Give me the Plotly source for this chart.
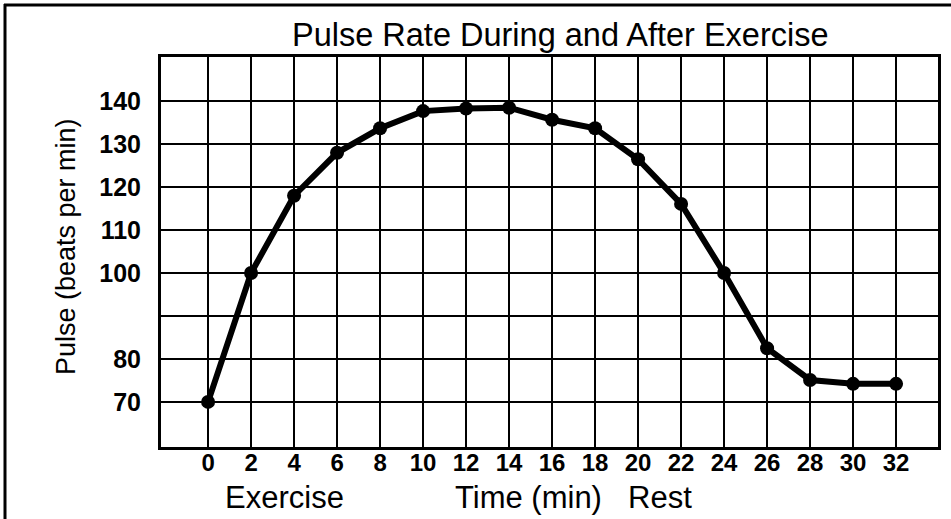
import plotly.graph_objects as go

time_min = [0, 2, 4, 6, 8, 10, 12, 14, 16, 18, 20, 22, 24, 26, 28, 30, 32]
pulse = [70, 100, 118, 128, 133.7, 137.7, 138.3, 138.5, 135.7, 133.7, 126.5, 116.1, 100, 82.5, 75.1, 74.2, 74.2]

x_tickvals = list(range(0, 34, 2))
x_ticktext = [str(v) for v in x_tickvals]
y_tickvals = [70, 80, 90, 100, 110, 120, 130, 140]
y_ticktext = ["70", "80", "", "100", "110", "120", "130", "140"]

W, H = 951, 519
L, R, T, B = 161, 13, 57, 72
pw, ph = W - L - R, H - T - B

def px(x):
    return (x - L) / pw

def py(y):
    return (H - B - y) / ph

FONT = "Liberation Sans, Arial, sans-serif"

fig = go.Figure()
fig.add_trace(go.Scatter(
    x=time_min, y=pulse, mode="lines+markers",
    line=dict(color="black", width=6),
    marker=dict(color="black", size=14),
    showlegend=False, hoverinfo="skip",
))

fig.update_layout(
    width=W, height=H,
    margin=dict(l=L, r=R, t=T, b=B),
    paper_bgcolor="white", plot_bgcolor="white",
    font=dict(family=FONT, color="black"),
    xaxis=dict(
        range=[-2.19, 33.95], tickvals=x_tickvals, ticktext=x_ticktext,
        showgrid=True, gridcolor="black", gridwidth=1.6,
        showline=True, linecolor="black", linewidth=3, mirror=True,
        ticks="", tickfont=dict(size=24, family=FONT, weight="bold"),
        zeroline=False, ticklabelstandoff=-8, automargin=False,
    ),
    yaxis=dict(
        range=[59.5, 150.3], tickvals=y_tickvals, ticktext=y_ticktext,
        showgrid=True, gridcolor="black", gridwidth=1.6,
        showline=True, linecolor="black", linewidth=3, mirror=True,
        ticks="", tickfont=dict(size=25, family=FONT, weight="bold"),
        zeroline=False, ticklabelstandoff=12, automargin=False,
    ),
    shapes=[
        dict(type="line", xref="paper", yref="paper", x0=px(4), x1=px(951), y0=py(5), y1=py(5),
             line=dict(color="black", width=3)),
        dict(type="line", xref="paper", yref="paper", x0=px(5), x1=px(5), y0=py(4), y1=py(519),
             line=dict(color="black", width=3)),
    ],
    annotations=[
        dict(text="Pulse Rate During and After Exercise", xref="paper", yref="paper",
             x=px(560), y=py(35), showarrow=False, font=dict(size=32.5),
             xanchor="center", yanchor="middle"),
        dict(text="Pulse (beats per min)", xref="paper", yref="paper",
             x=px(66), y=py(247), showarrow=False, font=dict(size=27), textangle=-90,
             xanchor="center", yanchor="middle"),
        dict(text="Exercise", xref="paper", yref="paper",
             x=px(284), y=py(497), showarrow=False, font=dict(size=31),
             xanchor="center", yanchor="middle"),
        dict(text="Time (min)", xref="paper", yref="paper",
             x=px(528), y=py(497), showarrow=False, font=dict(size=31),
             xanchor="center", yanchor="middle"),
        dict(text="Rest", xref="paper", yref="paper",
             x=px(660), y=py(497), showarrow=False, font=dict(size=31),
             xanchor="center", yanchor="middle"),
    ],
)

fig.write_html("out.html", config={"displayModeBar": False},
               post_script="document.body.style.margin='0';")
